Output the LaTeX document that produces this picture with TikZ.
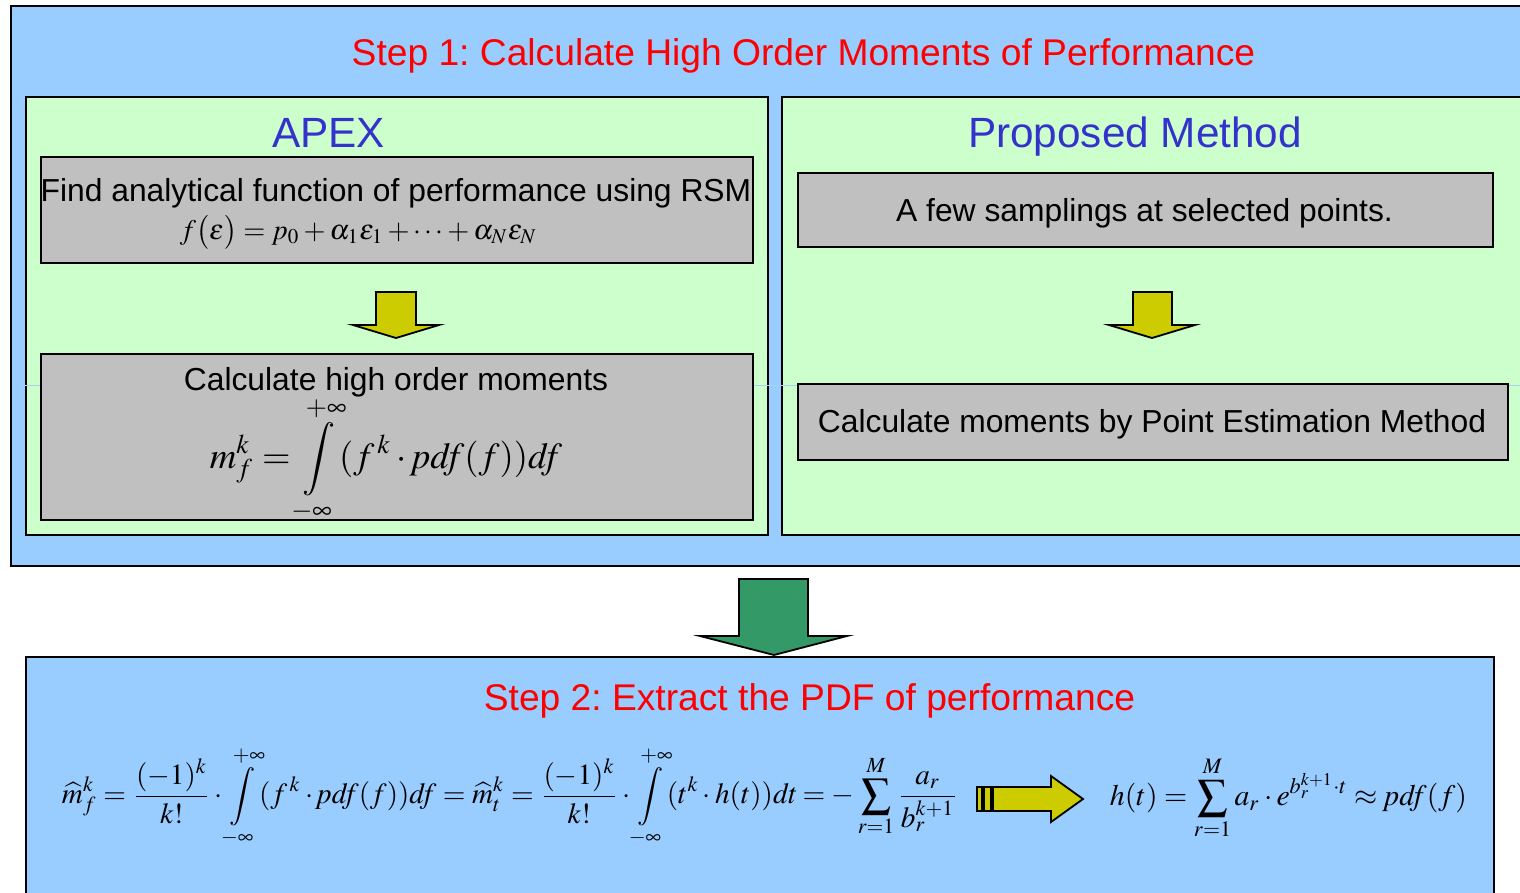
\documentclass[tikz,border=0pt]{standalone}
\usepackage{mathptmx}
\usepackage[no-math]{fontspec}
\setmainfont{Liberation Sans}
\usepackage{graphicx}
\frenchspacing
\definecolor{panelblue}{HTML}{99CCFF}
\definecolor{panelgreen}{HTML}{CCFFCC}
\definecolor{boxgray}{HTML}{C0C0C0}
\definecolor{arrowyellow}{HTML}{CCCC00}
\definecolor{arrowgreen}{HTML}{339966}
\definecolor{headblue}{HTML}{3333CC}
\definecolor{guideblue}{HTML}{A8D0F0}
\newcommand{\pdfof}{\mathit{pdf}}
\begin{document}
\begin{tikzpicture}[x=1pt,y=-1pt,
  panel/.style={draw=black,line width=2pt,fill=panelblue},
  subpanel/.style={draw=black,line width=2pt,fill=panelgreen},
  graybox/.style={draw=black,line width=2pt,fill=boxgray,inner sep=0pt},
  blockarrow/.style={draw=black,line width=1.8pt,line join=miter},
  steptitle/.style={anchor=base,text=red,font=\fontsize{37.2}{40}\selectfont,inner sep=0pt},
  methodtitle/.style={anchor=base,text=headblue,font=\fontsize{42.3}{45}\selectfont,inner sep=0pt},
  boxtext/.style={anchor=base,font=\fontsize{31.8}{34}\selectfont,inner sep=0pt},
  formula/.style={inner sep=0pt}]
\clip (0,0) rectangle (1520,892);
\fill[white] (0,0) rectangle (1520,892);

% Step 1 panel with its two method columns
\node[panel,minimum width=1520pt,minimum height=560pt,anchor=north west] (step1) at (10,5) {};
\node[subpanel,minimum width=742pt,minimum height=438pt,anchor=north west] (apex) at (25,96) {};
\node[subpanel,minimum width=760pt,minimum height=438pt,anchor=north west] (prop) at (781,96) {};
\draw[guideblue,line width=0.8pt] (25,385) -- (1520,385);

\node[steptitle] (t1) at (803.5,65) {Step 1: Calculate High Order Moments of Performance};
\node[methodtitle] (apexlbl) at (328.5,147) {APEX};
\node[methodtitle] (proplbl) at (1135,147) {Proposed Method};

% APEX column
\node[graybox,minimum width=712pt,minimum height=106pt,anchor=north west] (rsm) at (40,156) {};
\node[boxtext] (rsmtxt) at (396,201) {Find analytical function of performance using RSM};
\node[formula] (rsmeq) at (358.5,232) {\resizebox{357pt}{!}{$f\bigl(\varepsilon\bigr)=p_0+\alpha_1\varepsilon_1+\cdots+\alpha_N\varepsilon_N$}};

\node[graybox,minimum width=712pt,minimum height=166pt,anchor=north west] (mom) at (40,353) {};
\node[boxtext] (momtxt) at (396,390) {Calculate high order moments};
\node[formula] (momeq) at (386,460) {\resizebox{352pt}{!}{$\displaystyle m_f^k=\int\limits_{-\infty}^{+\infty}(f^{\,k}\cdot \pdfof(f))\mathit{df}$}};

% Proposed method column
\node[graybox,minimum width=695pt,minimum height=74pt,anchor=north west] (samp) at (797,172) {};
\node[boxtext] (samptxt) at (1144.5,221) {A few samplings at selected points.};
\node[graybox,minimum width=710pt,minimum height=76pt,anchor=north west] (pem) at (797,383) {};
\node[boxtext] (pemtxt) at (1152,432) {Calculate moments by Point Estimation Method};

% yellow block arrows between the steps of each column
\draw[blockarrow,fill=arrowyellow] (376,292) -- (416,292) -- (416,325) -- (439,325) -- (396,338) -- (353,325) -- (376,325) -- cycle;
\draw[blockarrow,fill=arrowyellow] (1133,292) -- (1172,292) -- (1172,325) -- (1195,325) -- (1152,338) -- (1109,325) -- (1133,325) -- cycle;

% Step 2 panel
\node[panel,minimum width=1468pt,minimum height=250pt,anchor=north west] (step2) at (25,656) {};
\draw[blockarrow,fill=arrowgreen] (739,579) -- (808,579) -- (808,636) -- (847,636) -- (774,655) -- (700,636) -- (739,636) -- cycle;

\node[steptitle] (t2) at (809.5,710) {Step 2: Extract the PDF of performance};
\node[formula] (pdfeq) at (510,797) {\resizebox{896pt}{!}{$\displaystyle \widehat{m}_f^k=\frac{(-1)^k}{k!}\cdot\int\limits_{-\infty}^{+\infty}(f^{\,k}\cdot \pdfof(f))\mathit{df}=\widehat{m}_t^k=\frac{(-1)^k}{k!}\cdot\int\limits_{-\infty}^{+\infty}(t^k\cdot h(t))\mathit{dt}=-\sum_{r=1}^{M}\frac{a_r}{b_r^{k+1}}$}};
\node[formula] (heq) at (1288.5,798) {\resizebox{357pt}{!}{$\displaystyle h(t)=\sum_{r=1}^{M}a_r\cdot e^{b_r^{k+1}\cdot t}\approx \pdfof(f)$}};

% striped block arrow leading to h(t)
\draw[line width=1.5pt,fill=arrowyellow] (977,787) rectangle (982,811);
\draw[line width=1.5pt,fill=arrowyellow] (984,787) rectangle (991,811);
\draw[blockarrow,fill=arrowyellow] (993,787) -- (1051,787) -- (1051,776) -- (1083,799) -- (1051,822) -- (1051,811) -- (993,811) -- cycle;
\end{tikzpicture}
\end{document}
